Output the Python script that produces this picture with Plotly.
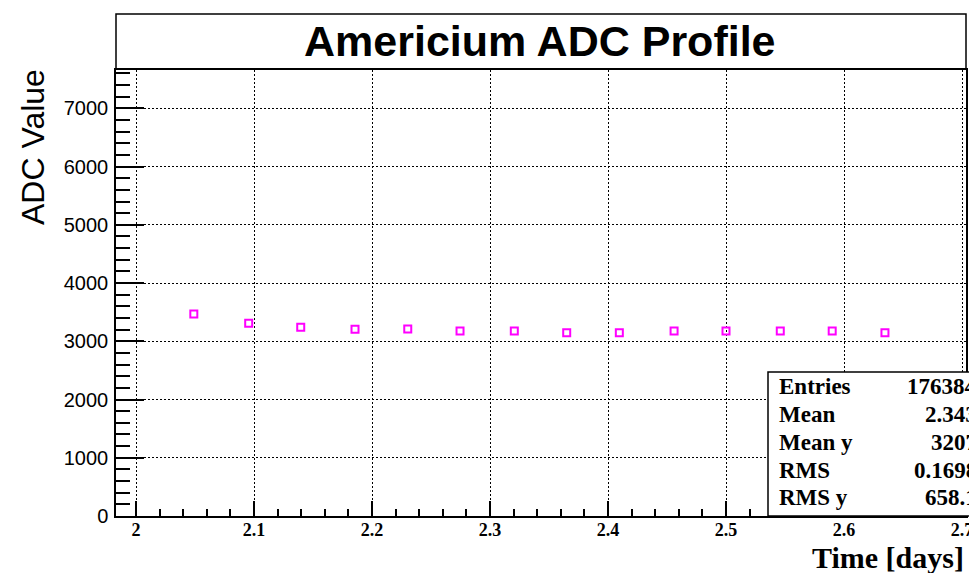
import plotly.graph_objects as go

# Profile bin centres (days) and mean ADC values
time_days = [2.049, 2.0955, 2.1396, 2.1856, 2.2303, 2.2746, 2.3206,
             2.365, 2.4096, 2.456, 2.500, 2.546, 2.590, 2.6347]
adc_mean = [3468, 3309, 3240, 3205, 3211, 3177, 3177,
            3148, 3148, 3177, 3177, 3177, 3177, 3148]

# Statistics box entries
stat_names = ["Entries", "Mean", "Mean y", "RMS", "RMS y"]
stat_values = ["176384", "2.343", "3207", "0.1698", "658.1"]

x_range = [1.98305, 2.70339]
y_range = [0, 7658]

W, H = 969, 573
L, R, T, B = 116, 3, 70, 57
PW, PH = W - L - R, H - T - B


def px_x(px):
    return (px - L) / PW


def px_y(py):
    return (H - B - py) / PH


fig = go.Figure()
fig.add_trace(go.Scatter(
    x=time_days, y=adc_mean, mode="markers",
    marker=dict(symbol="square-open", size=7, color="#ff00ff",
                line=dict(color="#ff00ff", width=2)),
    showlegend=False, hoverinfo="x+y",
))

serif = "Liberation Serif"
sans = "Liberation Sans"

fig.update_layout(
    width=W, height=H,
    margin=dict(l=L, r=R, t=T, b=B, autoexpand=False),
    paper_bgcolor="white", plot_bgcolor="white",
    xaxis=dict(
        range=x_range, tick0=2, dtick=0.1,
        showgrid=True, gridcolor="black", gridwidth=1.2, griddash="1.5px,2.5px",
        zeroline=False, showline=True, linecolor="black", linewidth=1.5, mirror=True,
        ticks="inside", ticklen=15, tickwidth=1.5, tickcolor="black",
        tickfont=dict(family=serif, size=18, color="black", weight="bold"),
        minor=dict(dtick=0.02, tick0=2, ticks="inside", ticklen=7, tickwidth=1.5,
                   tickcolor="black", showgrid=False),
        ticklabelstandoff=-3,
        ticklabeloverflow="allow",
    ),
    yaxis=dict(
        range=y_range, tick0=0, dtick=1000,
        showgrid=True, gridcolor="black", gridwidth=1.2, griddash="1.5px,2.5px",
        zeroline=False, showline=True, linecolor="black", linewidth=1.5, mirror=True,
        ticks="inside", ticklen=28, tickwidth=1.5, tickcolor="black",
        tickfont=dict(family=sans, size=20, color="black"),
        minor=dict(dtick=200, tick0=0, ticks="inside", ticklen=14, tickwidth=1.5,
                   tickcolor="black", showgrid=False),
        ticklabelstandoff=2,
        ticklabeloverflow="allow",
    ),
)

shapes = [
    # title box
    dict(type="rect", xref="paper", yref="paper",
         x0=0, x1=px_x(966), y0=px_y(69), y1=px_y(14),
         line=dict(color="black", width=1.5), fillcolor="white", layer="below"),
    # statistics box
    dict(type="rect", xref="paper", yref="paper",
         x0=px_x(768), x1=px_x(1000), y0=0, y1=px_y(372),
         line=dict(color="black", width=1.5), fillcolor="white", layer="above"),
]
fig.update_layout(shapes=shapes)

annotations = [
    dict(text="<b>Americium ADC Profile</b>", xref="paper", yref="paper",
         x=px_x(540), y=px_y(41), xanchor="center", yanchor="middle",
         showarrow=False, font=dict(family=sans, size=43, color="black")),
    dict(text="ADC Value", xref="paper", yref="paper",
         x=px_x(33), y=px_y(147), xanchor="center", yanchor="middle",
         textangle=-90, showarrow=False,
         font=dict(family=sans, size=32, color="black")),
    dict(text="<b>Time [days]</b>", xref="paper", yref="paper",
         x=px_x(966), y=px_y(557), xanchor="right", yanchor="middle",
         showarrow=False, font=dict(family=serif, size=30, color="black")),
]

row_centres = [386, 414, 442, 470, 497]
for name, val, yc in zip(stat_names, stat_values, row_centres):
    annotations.append(dict(
        text=f"<b>{name}</b>", xref="paper", yref="paper",
        x=px_x(777), y=px_y(yc), xanchor="left", yanchor="middle",
        showarrow=False, font=dict(family=serif, size=23, color="black")))
    annotations.append(dict(
        text=f"<b>{val}</b>", xref="paper", yref="paper",
        x=px_x(979), y=px_y(yc), xanchor="right", yanchor="middle",
        showarrow=False, font=dict(family=serif, size=23, color="black")))

fig.update_layout(annotations=annotations)

fig.write_html("out.html")
